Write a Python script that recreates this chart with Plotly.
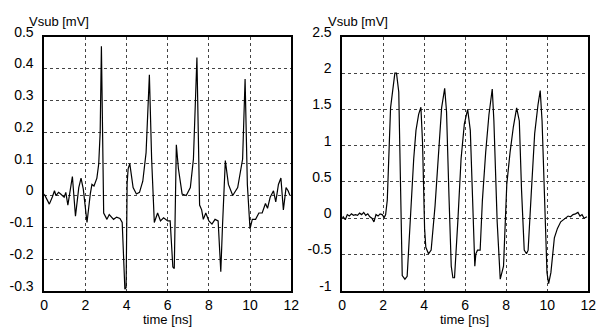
import plotly.graph_objects as go

# ---- Left panel data (time [ns], Vsub [mV]) ----
t_left = [0.0, 0.1, 0.25, 0.4, 0.5, 0.57, 0.7, 0.8, 0.97, 1.05, 1.15, 1.37, 1.52, 1.68, 1.79, 1.9,
          2.08, 2.24, 2.32, 2.42, 2.56, 2.65, 2.72, 2.78, 2.89, 3.05, 3.16, 3.37, 3.52, 3.68, 3.79,
          3.92, 3.98, 4.03, 4.08, 4.16, 4.32, 4.48, 4.63, 4.79, 4.95, 5.11, 5.22, 5.35, 5.51, 5.65,
          5.8, 6.0, 6.12, 6.25, 6.32, 6.42, 6.52, 6.7, 6.9, 7.1, 7.25, 7.42, 7.55, 7.65, 7.73, 7.85,
          8.0, 8.15, 8.3, 8.45, 8.58, 8.66, 8.8, 8.95, 9.16, 9.4, 9.64, 9.76, 9.87, 10.0, 10.11,
          10.27, 10.43, 10.59, 10.75, 10.85, 10.98, 11.14, 11.25, 11.38, 11.5, 11.62, 11.75, 11.85, 11.94]
v_left = [0.005, -0.01, -0.027, -0.004, 0.015, 0.0, 0.01, 0.005, -0.005, 0.01, -0.03, 0.06, -0.065, 0.025, 0.055, 0.02,
          -0.085, 0.005, 0.035, 0.03, 0.055, 0.1, 0.2, 0.47, -0.055, -0.075, -0.06, -0.075, -0.068, -0.072, -0.085,
          -0.295, -0.29, 0.04, 0.085, 0.1, 0.025, 0.005, 0.01, 0.045, 0.135, 0.38, 0.115, -0.085, -0.055, -0.08,
          -0.07, -0.08, -0.08, -0.225, -0.23, 0.16, 0.085, 0.005, 0.0, 0.025, 0.115, 0.435, -0.03, -0.045, -0.075, -0.055,
          -0.08, -0.09, -0.075, -0.08, -0.24, -0.1, 0.11, 0.035, 0.0, 0.025, 0.115, 0.367, 0.035, -0.105, -0.075,
          -0.075, -0.055, -0.055, -0.025, -0.04, -0.005, 0.015, -0.02, 0.035, 0.055, -0.045, 0.025, 0.015, 0.0]

# ---- Right panel data (time [ns], Vsub [mV]) ----
t_right = [0.0, 0.05, 0.15, 0.25, 0.35, 0.45, 0.55, 0.65, 0.75, 0.85, 0.95, 1.05, 1.15, 1.25, 1.35, 1.45,
           1.55, 1.65, 1.75, 1.85, 1.95, 2.05, 2.12, 2.2, 2.36, 2.49, 2.57, 2.65, 2.76, 2.93, 3.06, 3.17,
           3.33, 3.49, 3.6, 3.73, 3.84, 3.92, 4.02, 4.08, 4.21, 4.34, 4.53, 4.69, 4.85, 5.0, 5.09, 5.21,
           5.32, 5.4, 5.48, 5.64, 5.8, 5.96, 6.12, 6.25, 6.36, 6.46, 6.47, 6.52, 6.6, 6.73, 6.84, 7.0,
           7.16, 7.32, 7.4, 7.56, 7.71, 7.87, 8.03, 8.19, 8.35, 8.51, 8.64, 8.75, 8.88, 8.99, 9.07, 9.23,
           9.39, 9.55, 9.66, 9.75, 9.87, 9.99, 10.07, 10.18, 10.35, 10.5, 10.66, 10.78, 10.9, 11.02, 11.14,
           11.26, 11.38, 11.5, 11.6, 11.7, 11.8, 11.94]
v_right = [0.0, 0.02, -0.02, 0.05, 0.03, 0.06, 0.04, 0.05, 0.04, 0.07, 0.05, 0.08, 0.04, 0.06, 0.02, 0.0,
           -0.05, 0.05, 0.03, 0.06, 0.05, 0.01, 0.05, 0.25, 1.52, 1.87, 2.0, 2.0, 1.74, -0.79, -0.84, -0.8,
           0.035, 0.82, 1.21, 1.43, 1.53, 1.04, -0.14, -0.4, -0.49, -0.44, 0.17, 0.91, 1.52, 1.79, 1.47, 0.3,
           -0.66, -0.82, -0.82, -0.05, 0.82, 1.3, 1.5, 1.21, 0.17, -0.5, -0.66, -0.49, -0.44, -0.44, 0.25, 0.91,
           1.43, 1.78, 1.34, -0.05, -0.84, -0.66, 0.47, 0.91, 1.26, 1.52, 1.34, 0.38, -0.44, -0.49, -0.44, 0.38,
           1.17, 1.56, 1.76, 1.34, 0.12, -0.75, -0.9, -0.75, -0.27, -0.14, -0.05, -0.02, 0.0, 0.03, 0.02,
           0.05, 0.06, 0.08, 0.03, 0.05, 0.0, 0.02]

x_ticks = [0, 2, 4, 6, 8, 10, 12]
left_yticks = [-0.3, -0.2, -0.1, 0, 0.1, 0.2, 0.3, 0.4, 0.5]
left_ylabels = ["-0.3", "-0.2", "-0.1", "0", "0.1", "0.2", "0.3", "0.4", "0.5"]
right_yticks = [-1, -0.5, 0, 0.5, 1, 1.5, 2, 2.5]
right_ylabels = ["-1", "-0.5", "0", "0.5", "1", "1.5", "2", "2.5"]

FONT = "Liberation Sans, Arial, sans-serif"
FS = 14
FT = 13
W, H = 606, 329

fig = go.Figure()
fig.add_trace(go.Scatter(x=t_left, y=v_left, mode="lines",
                         line=dict(color="black", width=1.2), xaxis="x", yaxis="y"))
fig.add_trace(go.Scatter(x=t_right, y=v_right, mode="lines",
                         line=dict(color="black", width=1.2), xaxis="x2", yaxis="y2"))

ydom = [(H - 292) / H, (H - 25) / H]
axcommon = dict(showline=True, linecolor="black", linewidth=1.5, mirror=True,
                showgrid=True, gridcolor="#444444", griddash="dot", gridwidth=1,
                zeroline=False, ticks="",
                tickfont=dict(family=FONT, size=FS, color="black"))
xax = dict(ticklabelstandoff=1, **axcommon)
yax = dict(ticklabelstandoff=6, ticklabelshift=-5, **axcommon)

fig.update_layout(
    width=W, height=H,
    margin=dict(l=0, r=0, t=0, b=0),
    paper_bgcolor="white", plot_bgcolor="white",
    showlegend=False,
    font=dict(family=FONT, size=FS, color="black"),
    xaxis=dict(domain=[41 / W, 293 / W], range=[0, 12], tickvals=x_ticks,
               ticktext=[str(v) for v in x_ticks], anchor="y", **xax),
    yaxis=dict(domain=ydom, range=[-0.3, 0.5], tickvals=left_yticks,
               ticktext=left_ylabels, anchor="x", **yax),
    xaxis2=dict(domain=[345 / W, 596 / W], range=[0, 12], tickvals=x_ticks,
                ticktext=[str(v) for v in x_ticks], anchor="y2", **xax),
    yaxis2=dict(domain=ydom, range=[-1, 2.5], tickvals=right_yticks,
                ticktext=right_ylabels, anchor="x2", **yax),
    annotations=[
        dict(text="Vsub [mV]", x=56 / W, y=1 - 9 / H, xref="paper", yref="paper",
             xanchor="center", yanchor="middle", showarrow=False, font=dict(family=FONT, size=FT)),
        dict(text="Vsub [mV]", x=361 / W, y=1 - 9 / H, xref="paper", yref="paper",
             xanchor="center", yanchor="middle", showarrow=False, font=dict(family=FONT, size=FT)),
        dict(text="time [ns]", x=167 / W, y=1 - 322 / H, xref="paper", yref="paper",
             xanchor="center", yanchor="middle", showarrow=False, font=dict(family=FONT, size=FT)),
        dict(text="time [ns]", x=470 / W, y=1 - 322 / H, xref="paper", yref="paper",
             xanchor="center", yanchor="middle", showarrow=False, font=dict(family=FONT, size=FT)),
    ],
)

fig.write_html("out.html")
